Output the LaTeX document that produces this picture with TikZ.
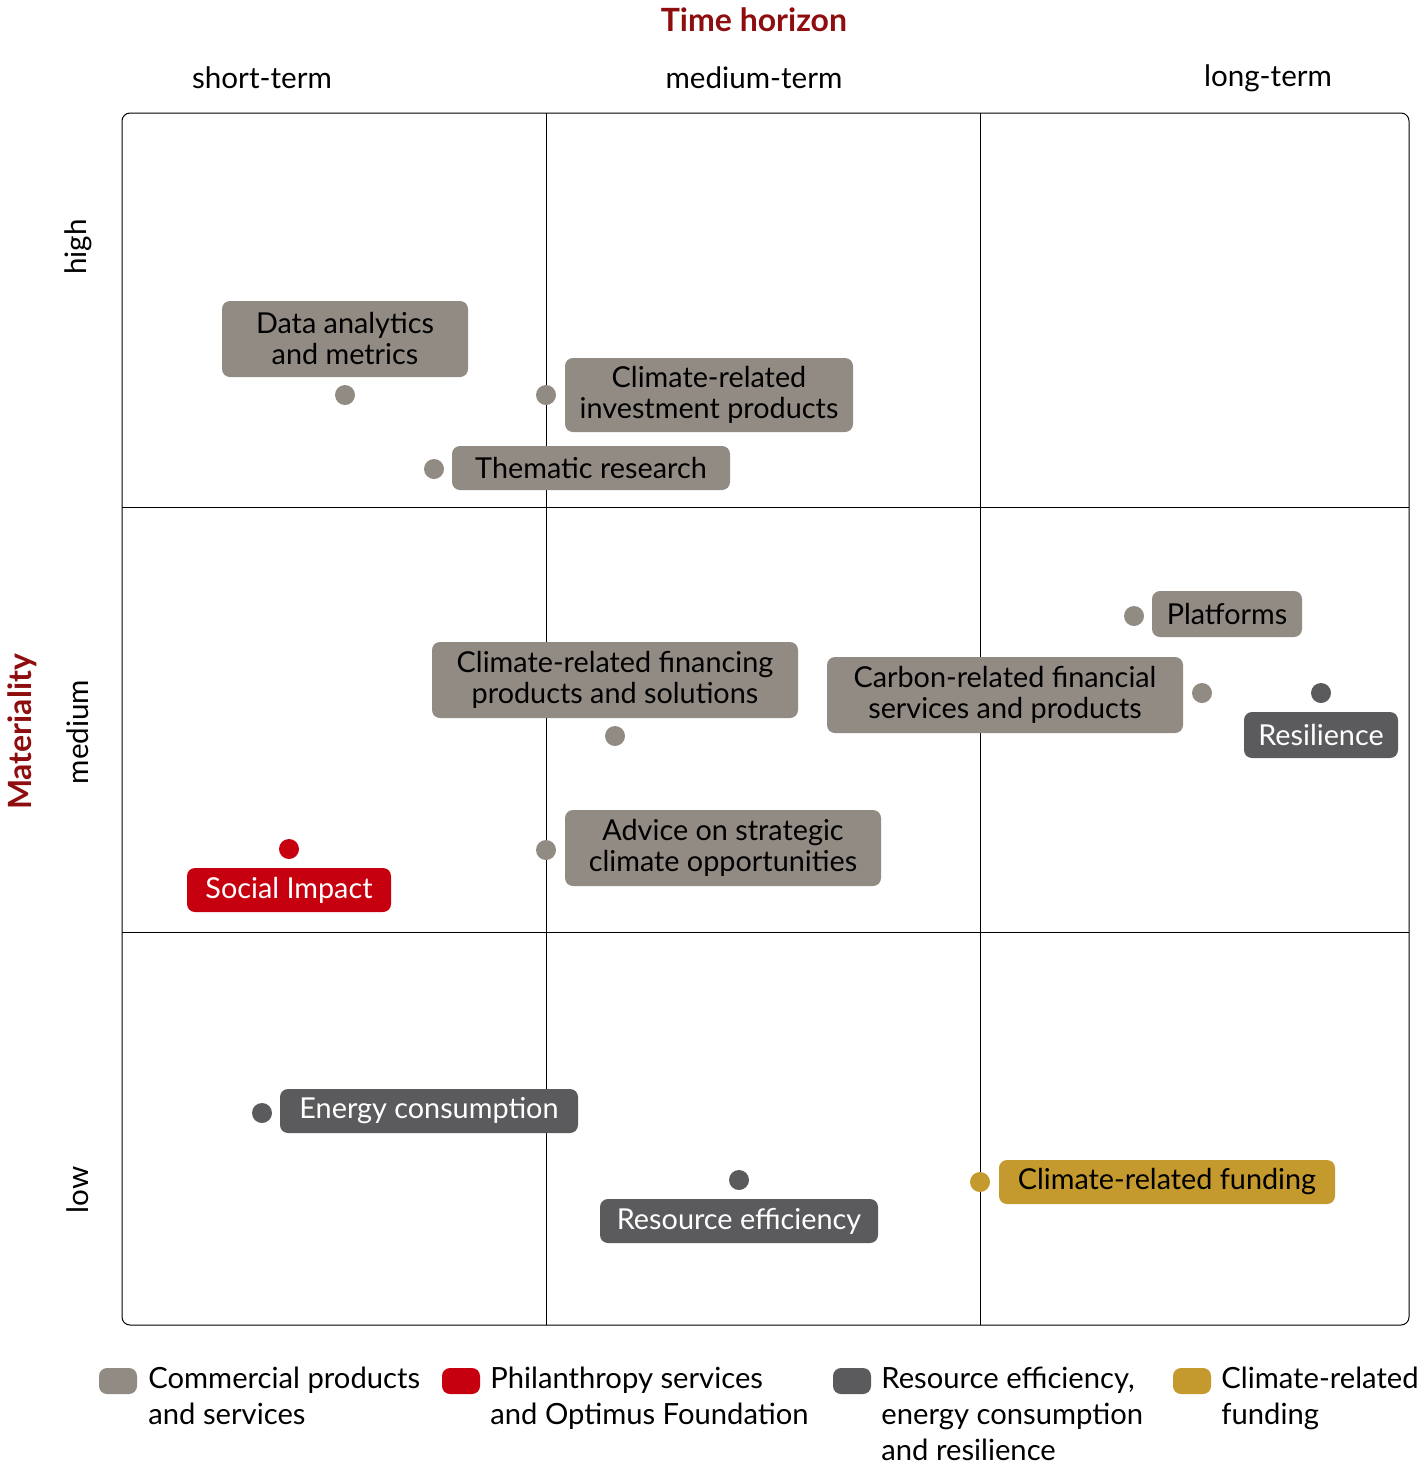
\documentclass[tikz,border=0pt]{standalone}
\usepackage{fontspec}
\setmainfont{Lato}
\usetikzlibrary{positioning}

\definecolor{ubsred}{HTML}{8E0E10}
\definecolor{boxgray}{HTML}{918B84}
\definecolor{boxdark}{HTML}{5B5B5E}
\definecolor{boxred}{HTML}{C70010}
\definecolor{boxgold}{HTML}{C49A2E}

\tikzset{
  tag/.style={rounded corners=4pt, align=center, inner sep=0pt, font=\fontsize{14.4}{15.5}\selectfont},
  graytag/.style={tag, fill=boxgray, text=black},
  darktag/.style={tag, fill=boxdark, text=white},
  redtag/.style={tag, fill=boxred, text=white},
  goldtag/.style={tag, fill=boxgold, text=black},
  dot/.style={circle, inner sep=0pt, minimum size=10pt},
  swatch/.style={rounded corners=4pt, inner sep=0pt, minimum width=19pt, minimum height=13pt},
  legend/.style={anchor=north west, align=left, inner sep=0pt, font=\fontsize{14.6}{18}\selectfont},
  axis/.style={font=\fontsize{14.8}{16}\selectfont},
  heading/.style={font=\fontsize{16}{17}\selectfont\bfseries, text=ubsred}
}

\begin{document}
\begin{tikzpicture}[x=0.5pt, y=-0.5pt]
  \useasboundingbox (0,0) rectangle (1417,1473);

  %% grid
  \draw[line width=.5pt, rounded corners=4pt] (122,113) rectangle (1409,1325);
  \draw[line width=.5pt] (546,113) to (546,1325);
  \draw[line width=.5pt] (980,113) to (980,1325);
  \draw[line width=.5pt] (122,507) to (1409,507);
  \draw[line width=.5pt] (122,932) to (1409,932);

  %% axes
  \node[heading] (time) at (754,20) {Time horizon};
  \node[axis] (short) at (262,78) {short-term};
  \node[axis] (medium) at (754,78) {medium-term};
  \node[axis] (long) at (1268,78) {long-term};

  \node[heading, rotate=90] (materiality) at (22,732) {Materiality};
  \node[axis, rotate=90] (high) at (78,247) {high};
  \node[axis, rotate=90] (mid) at (78,732) {medium};
  \node[axis, rotate=90] (low) at (78,1190) {low};

  %% commercial products
  \node[graytag, minimum width=123pt, minimum height=38pt] (data) at (345,339) {Data analytics\\and metrics};
    \node[dot, fill=boxgray] (data dot) at (345,395) {};
  \node[graytag, minimum width=144pt, minimum height=37pt] (invest) at (709,395) {Climate-related\\investment products};
    \node[dot, fill=boxgray] (invest dot) at (546,395) {};
  \node[graytag, minimum width=139pt, minimum height=22pt] (thematic) at (591,468) {Thematic research};
    \node[dot, fill=boxgray] (thematic dot) at (434,469) {};
  \node[graytag, minimum width=75pt, minimum height=23pt] (platforms) at (1227,614) {Platforms};
    \node[dot, fill=boxgray] (platforms dot) at (1134,616) {};
  \node[graytag, minimum width=178pt, minimum height=38pt] (carbon) at (1005,695) {Carbon-related financial\\services and products};
    \node[dot, fill=boxgray] (carbon dot) at (1202,693) {};
  \node[graytag, minimum width=183pt, minimum height=38pt] (financing) at (615,680) {Climate-related financing\\products and solutions};
    \node[dot, fill=boxgray] (financing dot) at (615,736) {};
  \node[graytag, minimum width=158pt, minimum height=38pt] (advice) at (723,848) {Advice on strategic\\climate opportunities};
    \node[dot, fill=boxgray] (advice dot) at (546,850) {};

  %% philanthropy
  \node[redtag, minimum width=102pt, minimum height=22pt] (social) at (289,890) {Social Impact};
    \node[dot, fill=boxred] (social dot) at (289,849) {};

  %% resource efficiency
  \node[darktag, minimum width=77pt, minimum height=23pt] (resilience) at (1321,735) {Resilience};
    \node[dot, fill=boxdark] (resilience dot) at (1321,693) {};
  \node[darktag, minimum width=149pt, minimum height=22pt] (energy) at (429,1111) {Energy consumption};
    \node[dot, fill=boxdark] (energy dot) at (262,1113) {};
  \node[darktag, minimum width=139pt, minimum height=22pt] (resource) at (739,1221) {Resource efficiency};
    \node[dot, fill=boxdark] (resource dot) at (739,1180) {};

  %% funding
  \node[goldtag, minimum width=168pt, minimum height=22pt] (funding) at (1167,1182) {Climate-related funding};
    \node[dot, fill=boxgold] (funding dot) at (980,1182) {};

  %% legend
  \node[swatch, fill=boxgray] (key gray) at (118,1381) {};
  \node[legend] (text gray) at (148,1367) {Commercial products\\and services};
  \node[swatch, fill=boxred] (key red) at (461,1381) {};
  \node[legend] (text red) at (490,1367) {Philanthropy services\\and Optimus Foundation};
  \node[swatch, fill=boxdark] (key dark) at (852,1381) {};
  \node[legend] (text dark) at (881,1367) {Resource efficiency,\\energy consumption\\and resilience};
  \node[swatch, fill=boxgold] (key gold) at (1192,1381) {};
  \node[legend] (text gold) at (1221,1367) {Climate-related\\funding};

\end{tikzpicture}
\end{document}
